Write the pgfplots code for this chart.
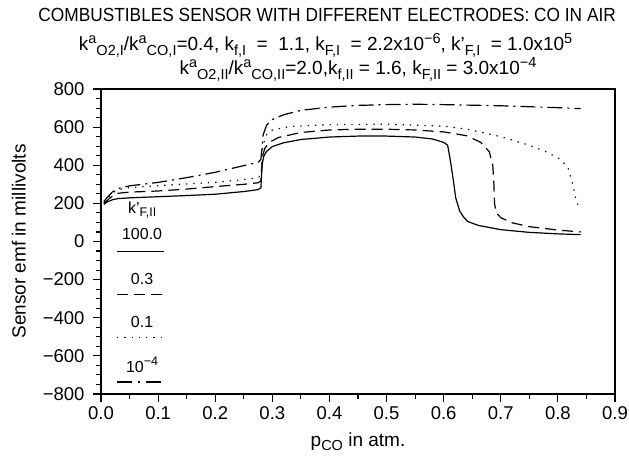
\documentclass[border=0pt]{standalone}
\usepackage{pgfplots}
\pgfplotsset{compat=1.18}
\usepackage{fontspec}
\setmainfont{Liberation Sans}
\newcommand{\su}[1]{\raisebox{-0.45ex}{\fontsize{14.5}{14.5}\selectfont #1}}
\newcommand{\spr}[1]{\raisebox{0.75ex}{\fontsize{14.5}{14.5}\selectfont #1}}
\begin{document}
\begin{tikzpicture}
\useasboundingbox (-101pt,-62pt) rectangle (528pt,394pt);
\begin{axis}[
  at={(0pt,0pt)}, anchor=south west,
  scale only axis, width=514pt, height=305pt,
  xmin=0, xmax=0.9, ymin=-800, ymax=800,
  xtick={0,0.1,0.2,0.3,0.4,0.5,0.6,0.7,0.8,0.9},
  xticklabels={0.0,0.1,0.2,0.3,0.4,0.5,0.6,0.7,0.8,0.9},
  ytick={-800,-600,-400,-200,0,200,400,600,800},
  yticklabels={−800,−600,−400,−200,0,200,400,600,800},
  minor x tick num=1, minor y tick num=3,
  tick align=outside, xtick pos=bottom, ytick pos=left,
  major tick length=8pt, minor tick length=5pt,
  axis line style={line width=1.1pt},
  every tick/.style={line width=1.1pt, black},
  ticklabel style={font=\fontsize{18.5}{20}\selectfont},
  xticklabel style={yshift=-1pt},
  yticklabel style={xshift=-5pt},
  xlabel={p\su{CO} in atm.},
  ylabel={Sensor emf in millivolts},
  label style={font=\fontsize{19}{21}\selectfont},
  xlabel style={yshift=-6pt},
  ylabel style={yshift=10pt},
  clip=false,
]
% solid, k'_F,II = 100.0
\addplot[black, line width=1.2pt] coordinates {
(0.005,195) (0.01,207) (0.02,219) (0.03,225) (0.05,229) (0.1,235) (0.15,241) (0.2,248) (0.25,262) (0.275,272) (0.28,282) (0.282,400) (0.285,448) (0.29,473) (0.3,498) (0.32,518) (0.35,535) (0.4,548) (0.45,553) (0.5,553) (0.55,548) (0.58,538) (0.6,520) (0.607,505) (0.612,420) (0.617,320) (0.621,230) (0.628,160) (0.635,128) (0.642,105) (0.66,85) (0.7,62) (0.75,48) (0.8,40) (0.84,36)
};
% dashed, 0.3
\addplot[black, line width=1.2pt, dash pattern=on 11pt off 6pt] coordinates {
(0.005,200) (0.01,214) (0.02,238) (0.03,253) (0.05,259) (0.1,265) (0.15,275) (0.2,288) (0.25,300) (0.275,308) (0.28,318) (0.283,450) (0.287,490) (0.295,520) (0.31,545) (0.35,572) (0.4,585) (0.45,589) (0.5,589) (0.55,585) (0.6,575) (0.64,555) (0.665,520) (0.68,470) (0.686,400) (0.688,300) (0.689,200) (0.692,150) (0.70,125) (0.72,98) (0.75,78) (0.8,60) (0.84,50)
};
% dotted, 0.1
\addplot[black, line width=1.2pt, dash pattern=on 1.3pt off 6pt] coordinates {
(0.005,205) (0.01,220) (0.02,255) (0.03,272) (0.05,283) (0.1,293) (0.15,302) (0.2,310) (0.25,325) (0.275,335) (0.28,345) (0.283,500) (0.29,560) (0.3,585) (0.33,603) (0.4,613) (0.5,615) (0.6,605) (0.64,590) (0.7,550) (0.75,505) (0.78,470) (0.805,430) (0.818,385) (0.826,300) (0.831,230) (0.837,175)
};
% dash-dot, 1e-4
\addplot[black, line width=1.2pt, dash pattern=on 15pt off 5pt on 2pt off 5pt] coordinates {
(0.005,210) (0.01,228) (0.02,260) (0.03,278) (0.05,292) (0.1,310) (0.15,335) (0.2,363) (0.25,398) (0.275,415) (0.28,430) (0.284,560) (0.29,610) (0.3,640) (0.32,665) (0.35,688) (0.4,705) (0.45,714) (0.5,718) (0.55,720) (0.6,718) (0.7,712) (0.8,702) (0.84,697)
};
% legend
\tikzset{legtext/.style={font=\fontsize{16}{18}\selectfont}}
\node[legtext] at (axis cs:0.072,165) {k’\raisebox{-0.45ex}{\fontsize{12.5}{12.5}\selectfont F,II}};
\node[legtext] at (axis cs:0.072,37) {100.0};
\draw[line width=1.2pt] (axis cs:0.028,-53) -- (axis cs:0.11,-53);
\node[legtext] at (axis cs:0.072,-195) {0.3};
\draw[line width=1.2pt, dash pattern=on 11pt off 6pt] (axis cs:0.028,-279) -- (axis cs:0.11,-279);
\node[legtext] at (axis cs:0.072,-421) {0.1};
\draw[line width=1.2pt, dash pattern=on 1.3pt off 6pt] (axis cs:0.028,-505) -- (axis cs:0.11,-505);
\node[legtext] at (axis cs:0.072,-647) {10\raisebox{0.75ex}{\fontsize{12.5}{12.5}\selectfont −4}};
\draw[line width=1.2pt, dash pattern=on 15pt off 6pt on 2pt off 6pt] (axis cs:0.028,-737) -- (axis cs:0.11,-737);
% title
\node[font=\fontsize{19}{21}\selectfont, xscale=0.91, transform shape] at ([yshift=74pt]rel axis cs:0.44,1) {COMBUSTIBLES SENSOR WITH DIFFERENT ELECTRODES: CO IN AIR};
\node[font=\fontsize{19}{21}\selectfont] at ([yshift=44pt]rel axis cs:0.437,1) {k\spr{a}\su{O2,I}/k\spr{a}\su{CO,I}=0.4, k\su{f,I} \ = \ 1.1, k\su{F,I} \ = 2.2x10\spr{−6}, k’\su{F,I} \ = 1.0x10\spr{5}};
\node[font=\fontsize{19}{21}\selectfont] at ([yshift=20pt]rel axis cs:0.5,1) {k\spr{a}\su{O2,II}/k\spr{a}\su{CO,II}=2.0,k\su{f,II} = 1.6, k\su{F,II} = 3.0x10\spr{−4}};
\end{axis}
\end{tikzpicture}
\end{document}
